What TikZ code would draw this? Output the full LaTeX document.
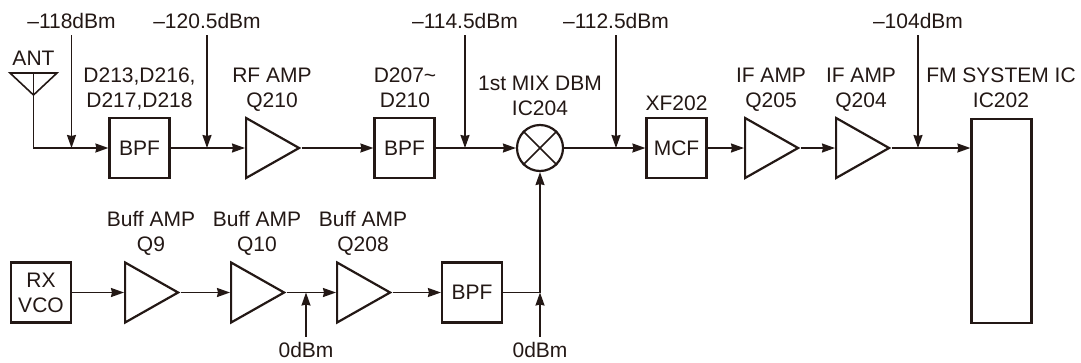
\documentclass[tikz,border=0pt]{standalone}
\usepackage{fontspec}
\setmainfont{Liberation Sans}
\usetikzlibrary{arrows.meta,shapes.geometric}
\definecolor{ink}{HTML}{231815}
\tikzset{
	conn/.style={line width=1.6pt,draw=ink},
	arr/.style={conn,-{Stealth[length=13pt,width=9pt,inset=1pt]}},
	blockbox/.style={draw=ink,text=ink,line width=2.2pt,minimum width=60pt,minimum height=60pt,inner sep=0pt,font=\fontsize{21}{25}\selectfont,align=center},
	ampbox/.style={draw=ink,line width=2.2pt,isosceles triangle,isosceles triangle stretches,minimum width=60pt,minimum height=53pt,inner sep=0pt,anchor=west},
	mixbox/.style={draw=ink,line width=2.2pt,circle,minimum size=46pt,inner sep=0pt},
	txt/.style={text=ink,font=\fontsize{21}{25}\selectfont,align=center,inner sep=0pt,text depth=0pt,anchor=south},
	lvlTop/.style={text=ink,font=\fontsize{21}{25}\selectfont,anchor=base,inner xsep=0pt,inner ysep=7pt,text depth=0pt},
	lvlBot/.style={text=ink,font=\fontsize{21}{25}\selectfont,anchor=base,inner xsep=0pt,inner ysep=1pt,text depth=0pt,text height=19pt}
}
\begin{document}
\begin{tikzpicture}[x=1pt,y=-1pt]
	\useasboundingbox (0,0) rectangle (1081,362);
	% upper chain
	\node[blockbox] (bpfA) at (139.5,148) {BPF};
	\node[ampbox] (ampA) at (245,148) {};
	\node[blockbox] (bpfB) at (404.5,148) {BPF};
	\node[mixbox] (mix) at (540,148) {};
	\node[blockbox] (mcf) at (676.5,148) {MCF};
	\node[ampbox] (ampB) at (744,148) {};
	\node[ampbox] (ampC) at (835,148) {};
	\node[blockbox,minimum height=204pt,anchor=north] (fmic) at (1001.5,118) {};
	% lower chain
	\node[blockbox] (vco) at (41,292.5) {RX\\VCO};
	\node[ampbox] (ampD) at (124,292.5) {};
	\node[ampbox] (ampE) at (230,292.5) {};
	\node[ampbox] (ampF) at (336,292.5) {};
	\node[blockbox] (bpfC) at (472,292.5) {BPF};
	% antenna
	\coordinate (antL) at (10,73);
	\coordinate (antR) at (57,73);
	\coordinate (antM) at (33.5,73);
	\coordinate (antT) at (33.5,95);
	\draw[conn] (antL) -- (antR) -- (antT) -- cycle;
	\draw[conn] (antM) -- (antT);
	% cross of the mixer
	\draw[conn] (mix.north west) -- (mix.south east);
	\draw[conn] (mix.north east) -- (mix.south west);
	% signal path
	\coordinate (antC) at (33.5,148);
	\draw[arr] (antT) -- (antC) -- (bpfA);
	\draw[arr] (bpfA) -- (ampA.west);
	\draw[arr] (ampA.east) -- (bpfB);
	\draw[arr] (bpfB) -- (mix);
	\draw[arr] (mix) -- (mcf);
	\draw[arr] (mcf) -- (ampB.west);
	\draw[arr] (ampB.east) -- (ampC.west);
	\draw[arr] (ampC.east) -- (fmic.west |- ampC.east);
	\draw[arr] (vco) -- (ampD.west);
	\draw[arr] (ampD.east) -- (ampE.west);
	\draw[arr] (ampE.east) -- (ampF.west);
	\draw[arr] (ampF.east) -- (bpfC);
	\coordinate (mixC) at (mix |- bpfC);
	\draw[conn] (bpfC) -- (mixC);
	\draw[arr] (mixC) -- (mix);
	% level labels
	\node[lvlTop] (lvlA) at (71.5,28) {–118dBm};
	\node[lvlTop] (lvlB) at (207,28) {–120.5dBm};
	\node[lvlTop] (lvlC) at (465,28) {–114.5dBm};
	\node[lvlTop] (lvlD) at (616,28) {–112.5dBm};
	\node[lvlTop] (lvlE) at (918,28) {–104dBm};
	\node[lvlBot] (lvlF) at (306,357) {0dBm};
	\node[lvlBot] (lvlG) at (540,357) {0dBm};
	\draw[arr] (lvlA) -- (lvlA |- antC);
	\draw[arr] (lvlB) -- (lvlB |- antC);
	\draw[arr] (lvlC) -- (lvlC |- antC);
	\draw[arr] (lvlD) -- (lvlD |- antC);
	\draw[arr] (lvlE) -- (lvlE |- antC);
	\draw[arr] (lvlF) -- (lvlF |- mixC);
	\draw[arr] (lvlG) -- (mixC);
	% block names
	\node[txt] (antName) at (33.5,66) {ANT};
	\node[txt] (bpfAName) at (139.5,108) {D213,D216,\\D217,D218};
	\node[txt] (ampAName) at (272,108) {RF AMP\\Q210};
	\node[txt] (bpfBName) at (405,108) {D207\textasciitilde\\D210};
	\node[txt] (mixName) at (540,116) {1st MIX DBM\\IC204};
	\node[txt] (mcfName) at (676.5,111) {XF202};
	\node[txt] (ampBName) at (771,108) {IF AMP\\Q205};
	\node[txt] (ampCName) at (861,108) {IF AMP\\Q204};
	\node[txt] (fmicName) at (1001,108) {FM SYSTEM IC\\IC202};
	\node[txt] (ampDName) at (151,252) {Buff AMP\\Q9};
	\node[txt] (ampEName) at (257,252) {Buff AMP\\Q10};
	\node[txt] (ampFName) at (363,252) {Buff AMP\\Q208};
\end{tikzpicture}
\end{document}
